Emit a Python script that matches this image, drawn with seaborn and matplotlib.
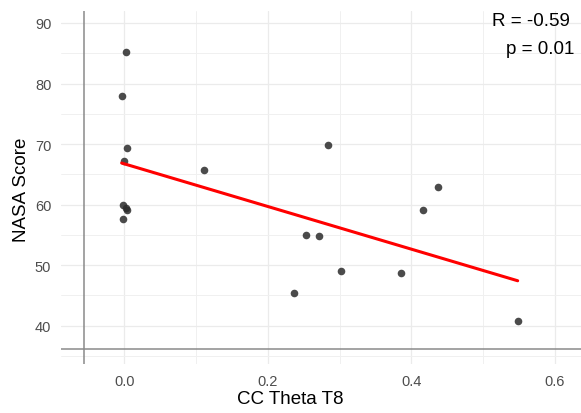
import matplotlib
matplotlib.use("Agg")
import matplotlib.pyplot as plt
import seaborn as sns
import numpy as np
import pandas as pd

# Data
cc_theta_t8 = [0.002, -0.0036, 0.0038, -0.001, 0.111, -0.0018, 0.002, 0.0038, -0.002,
               0.284, 0.4366, 0.4166, 0.253, 0.2708, 0.302, 0.385, 0.2368, 0.548]
nasa_score = [85.2, 77.9, 69.35, 67.15, 65.7, 60.0, 59.4, 59.1, 57.7,
              69.85, 62.9, 59.05, 54.9, 54.8, 49.05, 48.7, 45.35, 40.7]
x_ticks = [0.0, 0.2, 0.4, 0.6]
x_tick_labels = ["0.0", "0.2", "0.4", "0.6"]
y_ticks = [40, 50, 60, 70, 80, 90]
x_ref_line = -0.0557
y_ref_line = 36.1
stats_r = "R = -0.59"
stats_p = "p = 0.01"

df = pd.DataFrame({"CC Theta T8": cc_theta_t8, "NASA Score": nasa_score})

sns.set_theme(style="white")
plt.rcParams['font.family'] = ['Liberation Sans', 'DejaVu Sans']

W, H = 581, 414
fig = plt.figure(figsize=(W / 100, H / 100), dpi=100)
left_px, right_px, top_px, bottom_px = 61, 581, 12, 365
ax = fig.add_axes([left_px / W, 1 - bottom_px / H, (right_px - left_px) / W, (bottom_px - top_px) / H])

sns.regplot(data=df, x="CC Theta T8", y="NASA Score", ax=ax, ci=None, truncate=True,
            scatter_kws=dict(s=30, color="#2b2b2b", alpha=0.85, linewidths=0, zorder=3),
            line_kws=dict(color="#FF0000", lw=2.2, zorder=4))

ax.set_xticks(x_ticks)
ax.set_xticklabels(x_tick_labels)
ax.set_yticks(y_ticks)
ax.set_xticks([0.1, 0.3, 0.5], minor=True)
ax.set_yticks([35, 45, 55, 65, 75, 85], minor=True)
ax.set_xlim(-0.0881, 0.6362)
ax.set_ylim(33.67, 91.98)
ax.grid(which="major", color="#EBEBEB", lw=0.9, zorder=0)
ax.grid(which="minor", color="#F0F0F0", lw=0.7, zorder=0)
ax.set_axisbelow(True)
ax.tick_params(which="both", length=0, labelsize=10.5, labelcolor="#4D4D4D", pad=7)
for s in ax.spines.values():
    s.set_visible(False)

ax.axvline(x_ref_line, color="#8A8A8A", lw=1.1, zorder=2)
ax.axhline(y_ref_line, color="#8A8A8A", lw=1.1, zorder=2)

ax.set_xlabel("CC Theta T8", fontsize=13.5, color="black")
ax.set_ylabel("NASA Score", fontsize=13.5, color="black")
ax.xaxis.label.set_va("center")
ax.yaxis.label.set_va("center")
ax.xaxis.set_label_coords((290 - left_px) / (right_px - left_px), -(400 - bottom_px) / (bottom_px - top_px))
ax.yaxis.set_label_coords((22 - left_px) / (right_px - left_px), (bottom_px - 190) / (bottom_px - top_px))

fig.text(570 / W, 1 - 22 / H, stats_r, ha="right", va="center", fontsize=13.5, color="black")
fig.text(574 / W, 1 - 49 / H, stats_p, ha="right", va="center", fontsize=13.5, color="black")

fig.savefig("out.png", dpi=100)
